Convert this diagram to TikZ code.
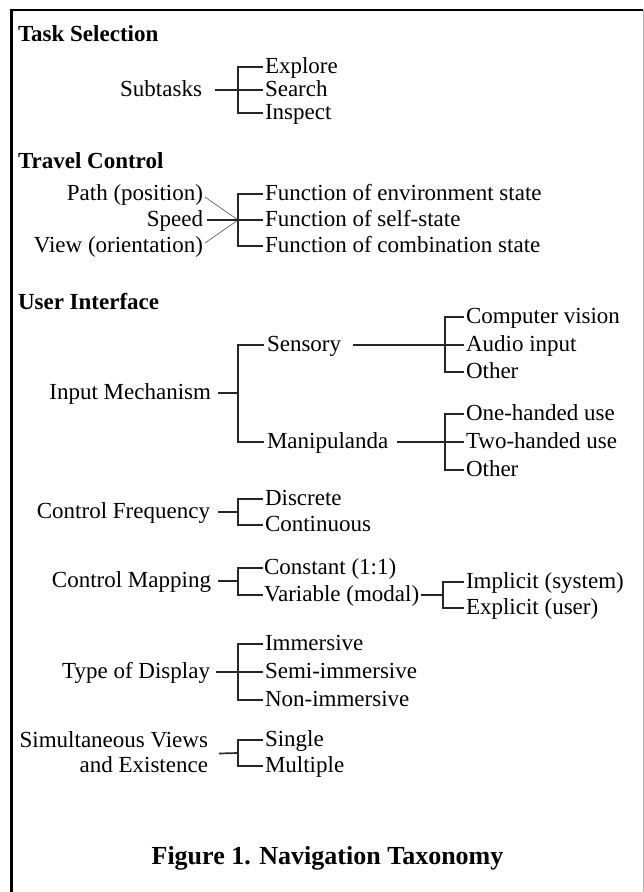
\documentclass[tikz,border=0pt]{standalone}
\usepackage{fontspec}
\setmainfont{Liberation Serif}
\usetikzlibrary{fit}
\begin{document}
\begin{tikzpicture}[x=1pt,y=-1pt,
  every node/.style={inner sep=0pt, outer sep=0pt, font=\fontsize{23}{26}\selectfont, text height=17pt, text depth=5pt},
  head/.style={anchor=west, font=\fontsize{23}{26}\selectfont\bfseries},
  lab/.style={anchor=east},
  item/.style={anchor=west},
  br/.style={line width=1.7pt, draw=black!85},
  diag/.style={line width=0.8pt, draw=black!55},
  frame/.style={line width=2.6pt, draw=black},
  rframe/.style={line width=0.9pt, draw=black!30}]
\useasboundingbox (0,0) rectangle (644,892);
% frame
\coordinate (fbl) at (11.5,892);
\coordinate (ftl) at (11.5,10);
\coordinate (ftr) at (643,10);
\coordinate (fbr) at (643,892);
\draw[rframe] (ftr) -- (fbr);
\draw[frame] (fbl) -- (ftl) -- (ftr);

% ---------- Task Selection
\node[head] (hts) at (18,35) {Task Selection};
\node[lab] (sub) at (202,90) {Subtasks};
\node[item] (exp) at (265,67) {Explore};
\node[item] (sea) at (265,90) {Search};
\node[item] (ins) at (265,113) {Inspect};
\coordinate (bts) at (238,90);
\draw[br] ([xshift=13pt]sub.east) -- ([xshift=-2pt]sea.west);
\draw[br] ([xshift=-2pt]exp.west) -- (bts |- exp.west) -- (bts |- ins.west) -- ([xshift=-2pt]ins.west);

% ---------- Travel Control
\node[head] (htc) at (18,162) {Travel Control};
\node[lab] (path) at (203,194) {Path (position)};
\node[lab] (speed) at (203,220) {Speed};
\node[lab] (view) at (203,246) {View (orientation)};
\node[item] (f1) at (265,194) {Function of environment state};
\node[item] (f2) at (265,220) {Function of self-state};
\node[item] (f3) at (265,246) {Function of combination state};
\coordinate (jtc) at (238,220);
\draw[diag] ([xshift=2pt,yshift=-3pt]path.east) -- (jtc);
\draw[diag] ([xshift=2pt,yshift=3pt]view.east) -- (jtc);
\draw[br] ([xshift=4pt]speed.east) -- ([xshift=-2pt]f2.west);
\draw[br] ([xshift=-2pt]f1.west) -- (jtc |- f1.west) -- (jtc |- f3.west) -- ([xshift=-2pt]f3.west);

% ---------- User Interface
\node[head] (hui) at (18,303) {User Interface};
\node[lab] (inm) at (211,393) {Input Mechanism};
\node[item] (sen) at (267,345) {Sensory};
\node[item] (man) at (267,442) {Manipulanda};
\coordinate (bim) at (238,393);
\draw[br] ([xshift=7pt]inm.east) -- (bim);
\draw[br] ([xshift=-3pt]sen.west) -- (bim |- sen.west) -- (bim |- man.west) -- ([xshift=-3pt]man.west);

\node[item] (cv) at (466,317) {Computer vision};
\node[item] (ai) at (466,345) {Audio input};
\node[item] (ot1) at (466,372) {Other};
\coordinate (bse) at (445,345);
\draw[br] ([xshift=12pt]sen.east) -- ([xshift=-2pt]ai.west);
\draw[br] ([xshift=-2pt]cv.west) -- (bse |- cv.west) -- (bse |- ot1.west) -- ([xshift=-2pt]ot1.west);

\node[item] (oh) at (466,414) {One-handed use};
\node[item] (th) at (466,442) {Two-handed use};
\node[item] (ot2) at (466,470) {Other};
\coordinate (bma) at (445,442);
\draw[br] ([xshift=9pt]man.east) -- ([xshift=-2pt]th.west);
\draw[br] ([xshift=-2pt]oh.west) -- (bma |- oh.west) -- (bma |- ot2.west) -- ([xshift=-2pt]ot2.west);

% ---------- Control Frequency
\node[lab] (cf) at (210,512) {Control Frequency};
\node[item] (dis) at (265,499) {Discrete};
\node[item] (con) at (265,525) {Continuous};
\coordinate (bcf) at (238,512);
\draw[br] ([xshift=8pt]cf.east) -- (bcf);
\draw[br] ([xshift=-2pt]dis.west) -- (bcf |- dis.west) -- (bcf |- con.west) -- ([xshift=-2pt]con.west);

% ---------- Control Mapping
\node[lab] (cm) at (211,581) {Control Mapping};
\node[item] (cst) at (264,568) {Constant (1:1)};
\node[item] (var) at (264,595) {Variable (modal)};
\coordinate (bcm) at (238,581);
\draw[br] ([xshift=7pt]cm.east) -- (bcm);
\draw[br] ([xshift=-1pt]cst.west) -- (bcm |- cst.west) -- (bcm |- var.west) -- ([xshift=-1pt]var.west);

\node[item] (imp) at (466,582) {Implicit (system)};
\node[item] (exl) at (466,608) {Explicit (user)};
\coordinate (bvar) at (443,595);
\draw[br] ([xshift=2pt]var.east) -- (bvar);
\draw[br] ([xshift=-2pt]imp.west) -- (bvar |- imp.west) -- (bvar |- exl.west) -- ([xshift=-2pt]exl.west);

% ---------- Type of Display
\node[lab] (td) at (210,672) {Type of Display};
\node[item] (imm) at (265,644) {Immersive};
\node[item] (semi) at (265,672) {Semi-immersive};
\node[item] (non) at (265,700) {Non-immersive};
\coordinate (btd) at (238,672);
\draw[br] ([xshift=6pt]td.east) -- ([xshift=-2pt]semi.west);
\draw[br] ([xshift=-2pt]imm.west) -- (btd |- imm.west) -- (btd |- non.west) -- ([xshift=-2pt]non.west);

% ---------- Simultaneous Views
\node[lab] (sv1) at (208,741) {Simultaneous Views};
\node[lab] (sv2) at (208,766) {and Existence};
\node[fit=(sv1)(sv2), inner sep=0pt, text height=, text depth=] (sv) {};
\node[item] (sgl) at (265,740) {Single};
\node[item] (mul) at (265,766) {Multiple};
\coordinate (bsv) at (238,753);
\draw[br] ([xshift=11pt]sv.east) -- (bsv);
\draw[br] ([xshift=-2pt]sgl.west) -- (bsv |- sgl.west) -- (bsv |- mul.west) -- ([xshift=-2pt]mul.west);

% ---------- Caption
\node[font=\fontsize{26}{30}\selectfont\bfseries] (cap) at (327.5,858) {Figure 1. Navigation Taxonomy};
\end{tikzpicture}
\end{document}
